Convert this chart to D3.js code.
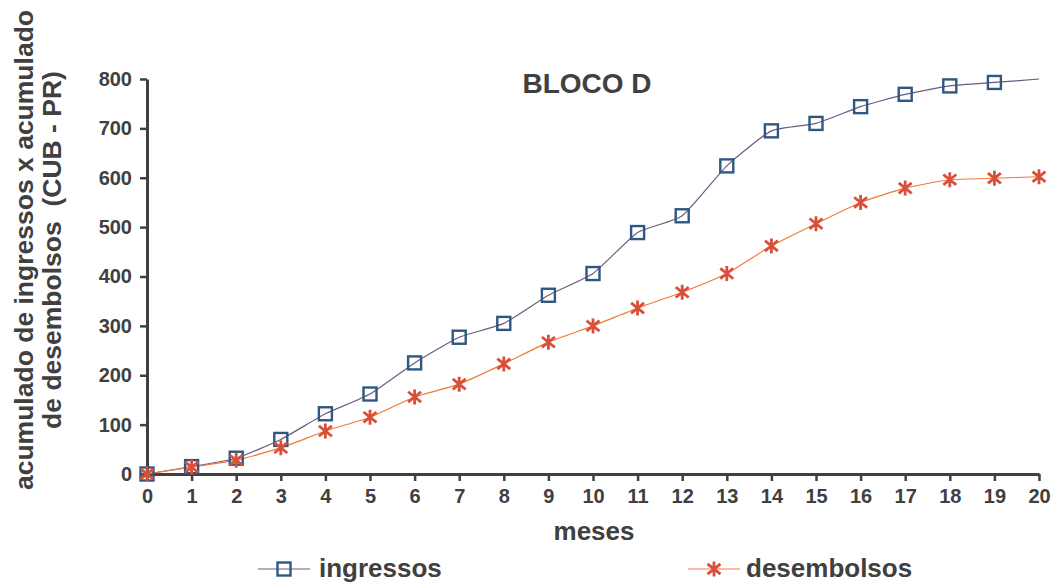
<!DOCTYPE html>
<html>
<head>
<meta charset="utf-8">
<script src="https://cdn.jsdelivr.net/npm/d3@7"></script>
<style>
  body { margin: 0; background: #fff; }
  svg { font-family: "Liberation Sans", Arial, sans-serif; font-weight: bold; }
</style>
</head>
<body>
<div id="svg-container"></div>
<script>
// dados
const meses = d3.range(0, 21);
const ingressos = [0, 15, 32, 70, 122, 162, 225, 277, 305, 362, 406, 489, 523, 624, 695, 710, 744, 769, 786, 793, 800];
const desembolsos = [0, 14, 28, 53, 87, 115, 156, 182, 223, 267, 300, 336, 368, 406, 462, 507, 550, 579, 596, 599, 602];
const yTicks = [0, 100, 200, 300, 400, 500, 600, 700, 800];

const width = 1053;
const height = 586;
const margin = { top: 79, right: 14, bottom: 112, left: 147 };
const textColor = "#404040";

const svg = d3
  .select("#svg-container")
  .append("svg")
  .attr("width", width)
  .attr("height", height);

const xScale = d3
  .scaleLinear()
  .domain([0, 20])
  .range([margin.left, width - margin.right]);
const yScale = d3
  .scaleLinear()
  .domain([0, 800])
  .range([height - margin.bottom, margin.top]);

const xAxis = d3.axisBottom(xScale).tickValues(meses).tickFormat(d3.format("d")).tickSize(7).tickSizeOuter(0).tickPadding(8);
const yAxis = d3.axisLeft(yScale).tickValues(yTicks).tickSize(7).tickSizeOuter(0).tickPadding(8);

const styleAxis = (g) => {
  g.select(".domain").attr("stroke", textColor).attr("stroke-width", 3);
  g.selectAll(".tick line").attr("stroke", textColor).attr("stroke-width", 2.5);
  g.selectAll(".tick text").attr("fill", textColor).style("font-size", "20px").style("font-weight", "bold");
};

svg
  .append("g")
  .attr("transform", `translate(0, ${yScale(0)})`)
  .call(xAxis)
  .call(styleAxis);

svg
  .append("g")
  .attr("transform", `translate(${xScale(0)}, 0)`)
  .call(yAxis)
  .call(styleAxis);

// títulos
svg
  .append("text")
  .attr("x", 587)
  .attr("y", 93)
  .attr("text-anchor", "middle")
  .attr("fill", textColor)
  .style("font-size", "28px")
  .text("BLOCO D");

svg
  .append("text")
  .attr("x", 594)
  .attr("y", 540)
  .attr("text-anchor", "middle")
  .attr("fill", textColor)
  .style("font-size", "26px")
  .text("meses");

const yTitle = svg
  .append("g")
  .attr("transform", "translate(0, 250) rotate(-90)");
yTitle
  .append("text")
  .attr("x", 0)
  .attr("y", 33)
  .attr("text-anchor", "middle")
  .attr("fill", textColor)
  .style("font-size", "26.5px")
  .text("acumulado de ingressos x acumulado");
yTitle
  .append("text")
  .attr("x", 0)
  .attr("y", 61)
  .attr("text-anchor", "middle")
  .attr("fill", textColor)
  .style("font-size", "26.5px")
  .style("white-space", "pre")
  .text("de desembolsos  (CUB - PR)");

// linhas
const line = d3
  .line()
  .x((d, i) => xScale(meses[i]))
  .y((d) => yScale(d))
  .curve(d3.curveCardinal.tension(0.5));

const colIngLine = "#6b5a80";
const colIngMark = "#2f5880";
const colDesLine = "#f07a3a";
const colDesMark = "#d9503a";

svg
  .append("path")
  .datum(ingressos)
  .attr("fill", "none")
  .attr("stroke", colIngLine)
  .attr("stroke-width", 1.2)
  .attr("d", line);

svg
  .append("path")
  .datum(desembolsos)
  .attr("fill", "none")
  .attr("stroke", colDesLine)
  .attr("stroke-width", 1.2)
  .attr("d", line);

const drawSquare = (g, x, y) => {
  g.append("rect")
    .attr("x", x - 6.5)
    .attr("y", y - 6.5)
    .attr("width", 13)
    .attr("height", 13)
    .attr("fill", "none")
    .attr("stroke", colIngMark)
    .attr("stroke-width", 2.4);
};

const drawStar = (g, x, y) => {
  const s = 6.5;
  const p = d3.path();
  p.moveTo(x - s, y - s * 0.8);
  p.lineTo(x + s, y + s * 0.8);
  p.moveTo(x + s, y - s * 0.8);
  p.lineTo(x - s, y + s * 0.8);
  p.moveTo(x, y - s - 1);
  p.lineTo(x, y + s + 1);
  g.append("path")
    .attr("d", p.toString())
    .attr("stroke", colDesMark)
    .attr("stroke-width", 2.8)
    .attr("fill", "none");
};

const markers = svg.append("g");
ingressos.forEach((v, i) => {
  if (i < 20) drawSquare(markers, xScale(meses[i]), yScale(v));
});
desembolsos.forEach((v, i) => {
  drawStar(markers, xScale(meses[i]), yScale(v));
});

// legenda
const legend = svg.append("g");
legend
  .append("line")
  .attr("x1", 258)
  .attr("x2", 310)
  .attr("y1", 569)
  .attr("y2", 569)
  .attr("stroke", colIngLine)
  .attr("stroke-width", 1.2);
drawSquare(legend, 284, 569);
legend
  .append("text")
  .attr("x", 319)
  .attr("y", 577)
  .attr("fill", textColor)
  .style("font-size", "26px")
  .text("ingressos");

legend
  .append("line")
  .attr("x1", 688)
  .attr("x2", 740)
  .attr("y1", 569)
  .attr("y2", 569)
  .attr("stroke", colDesLine)
  .attr("stroke-width", 1.2);
drawStar(legend, 714, 569);
legend
  .append("text")
  .attr("x", 746)
  .attr("y", 577)
  .attr("fill", textColor)
  .style("font-size", "26px")
  .text("desembolsos");
</script>
</body>
</html>
